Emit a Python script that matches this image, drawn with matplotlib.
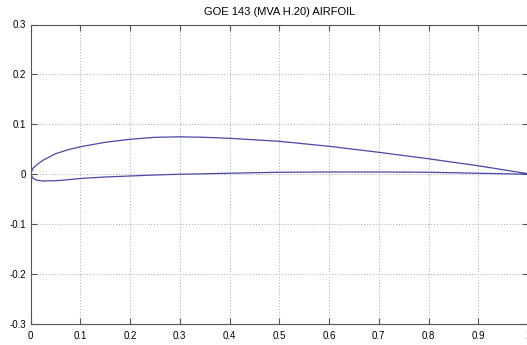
import matplotlib
matplotlib.use("Agg")
import matplotlib.pyplot as plt
import numpy as np

title = "GOE 143 (MVA H.20) AIRFOIL"

x_upper = [0, 0.005, 0.0125, 0.025, 0.05, 0.075, 0.1, 0.15, 0.2, 0.25, 0.3, 0.35, 0.4, 0.5, 0.6, 0.7, 0.8, 0.9, 0.95, 1.0]
y_upper = [0, 0.012, 0.019, 0.028, 0.041, 0.049, 0.055, 0.064, 0.070, 0.074, 0.075, 0.074, 0.072, 0.066, 0.056, 0.044, 0.031, 0.017, 0.009, 0.001]
x_lower = [0, 0.005, 0.0125, 0.025, 0.05, 0.075, 0.1, 0.15, 0.2, 0.25, 0.3, 0.4, 0.5, 0.6, 0.7, 0.8, 0.9, 0.95, 1.0]
y_lower = [0, -0.008, -0.012, -0.0135, -0.013, -0.011, -0.0085, -0.0055, -0.0035, -0.0015, 0.0, 0.002, 0.004, 0.0045, 0.0045, 0.004, 0.002, 0.001, 0.0]

x_ticks = [0, 0.1, 0.2, 0.3, 0.4, 0.5, 0.6, 0.7, 0.8, 0.9, 1]
x_ticklabels = ["0", "0.1", "0.2", "0.3", "0.4", "0.5", "0.6", "0.7", "0.8", "0.9", "1"]
y_ticks = [-0.3, -0.2, -0.1, 0, 0.1, 0.2, 0.3]
y_ticklabels = ["-0.3", "-0.2", "-0.1", "0", "0.1", "0.2", "0.3"]

plt.rcParams['font.family'] = ['Liberation Sans', 'DejaVu Sans']

W, H = 527, 345
fig = plt.figure(figsize=(W / 100, H / 100), dpi=100)
ax = fig.add_axes([30.5 / W, 21 / H, 497.5 / W, 299.5 / H])

xs = list(x_upper[::-1]) + list(x_lower[1:])
ys = list(y_upper[::-1]) + list(y_lower[1:])
ax.plot(xs, ys, color='#4848a8', lw=0.9)

ax.set_xlim(0, 1)
ax.set_ylim(-0.3, 0.3)
ax.set_xticks(x_ticks)
ax.set_xticklabels(x_ticklabels)
ax.set_yticks(y_ticks)
ax.set_yticklabels(y_ticklabels)
ax.grid(True, linestyle=(0, (1, 2)), color='#a8a8a8', lw=0.7)
ax.tick_params(direction='in', length=4, width=0.8, color='#555555',
               labelsize=7, top=True, right=True, pad=3)
ax.tick_params(axis='x', pad=5)
for s in ax.spines.values():
    s.set_color('#555555')
    s.set_linewidth(0.8)
ax.set_title(title, fontsize=8, pad=7)

fig.savefig("out.png", dpi=100)
